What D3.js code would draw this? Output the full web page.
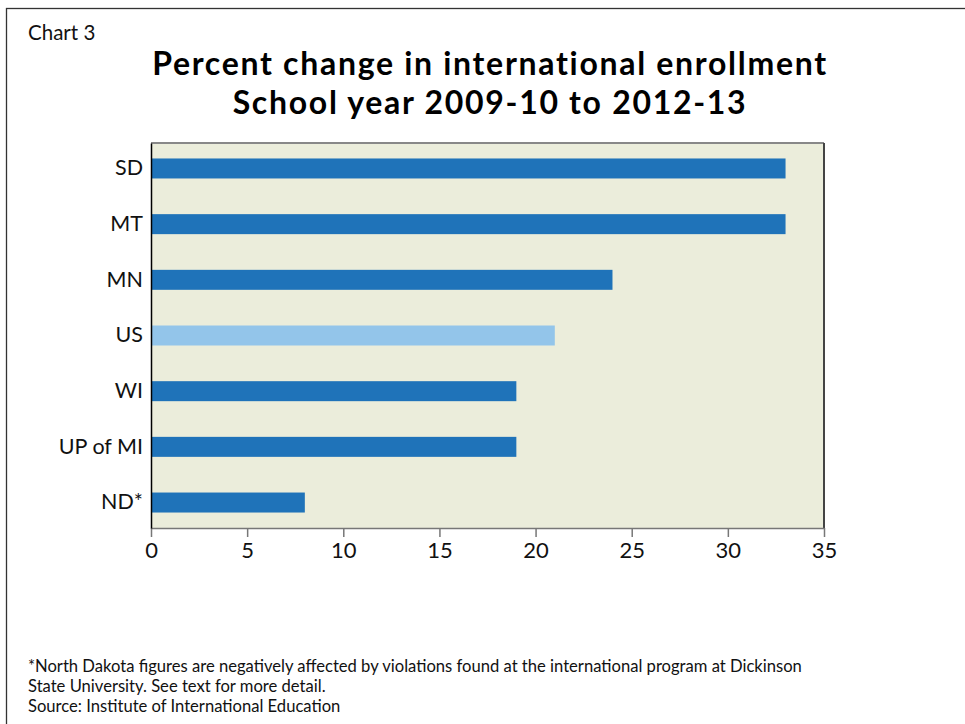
<!DOCTYPE html>
<html><head><meta charset="utf-8">
<script src="https://cdn.jsdelivr.net/npm/d3@7"></script>
<style>body{margin:0;background:#fff;} svg{display:block;font-family:Lato, "Noto Sans", sans-serif;}</style>
</head><body>
<svg id="c" width="965" height="724"></svg>
<script>
const categories = ["SD","MT","MN","US","WI","UP of MI","ND*"];
const values = [33,33,24,21,19,19,8];
const highlight = ["US"];
const xTicks = [0,5,10,15,20,25,30,35];
const titleLines = ["Percent change in international enrollment","School year 2009-10 to 2012-13"];
const footnotes = ["*North Dakota figures are negatively affected by violations found at the international program at Dickinson","State University. See text for more detail.","Source: Institute of International Education"];

const svg = d3.select("#c");
svg.append("rect").attr("x",6.5).attr("y",8.5).attr("width",1000).attr("height",1000)
  .attr("fill","none").attr("stroke","#333").attr("stroke-width",1.3);

svg.append("text").attr("x",28).attr("y",40).attr("font-size",20.5).attr("fill","#111").text("Chart 3");
svg.selectAll("text.title").data(titleLines).join("text").attr("class","title")
  .attr("x",490).attr("y",(d,i)=>75+i*39).attr("text-anchor","middle")
  .attr("font-size",32).attr("letter-spacing",1.7).attr("font-weight",700).attr("fill","#000").text(d=>d);

const L=151,R=824,T=143,B=528;
const x = d3.scaleLinear().domain([0,35]).range([L,R]);
const y = d3.scaleBand().domain(categories).range([T,B]).paddingInner(0.641).paddingOuter(0.278);

svg.append("rect").attr("x",L).attr("y",T).attr("width",R-L).attr("height",B-T).attr("fill","#ebeddb");
svg.append("line").attr("x1",L).attr("x2",R).attr("y1",T).attr("y2",T).attr("stroke","#888").attr("stroke-width",2);
svg.append("line").attr("x1",R).attr("x2",R).attr("y1",T).attr("y2",B).attr("stroke","#444").attr("stroke-width",2);

svg.selectAll("rect.bar").data(categories).join("rect").attr("class","bar")
  .attr("x",x(0)).attr("y",d=>y(d)).attr("height",y.bandwidth())
  .attr("width",(d,i)=>x(values[i])-x(0))
  .attr("fill",d=>highlight.includes(d)?"#93c5ea":"#1f73b9");

const xa = svg.append("g").attr("transform",`translate(0,${B})`)
  .call(d3.axisBottom(x).tickValues(xTicks).tickSize(9).tickPadding(5).tickSizeOuter(0));
xa.select(".domain").attr("stroke","#777").attr("stroke-width",1.5);
xa.selectAll(".tick line").attr("stroke","#777").attr("stroke-width",1.5);
xa.selectAll("text").attr("font-size",22).attr("fill","#111").attr("font-family","Lato, sans-serif");

const ya = svg.append("g").attr("transform",`translate(${L},0)`)
  .call(d3.axisLeft(y).tickSize(0).tickPadding(8));
ya.select(".domain").attr("stroke","#000").attr("stroke-width",1.5);
ya.selectAll("text").attr("font-size",21.5).attr("fill","#111").attr("font-family","Lato, sans-serif");

svg.selectAll("text.fn").data(footnotes).join("text").attr("class","fn")
  .attr("x",28).attr("y",(d,i)=>672+i*20).attr("font-size",16.6).attr("fill","#111").text(d=>d);
</script></body></html>
